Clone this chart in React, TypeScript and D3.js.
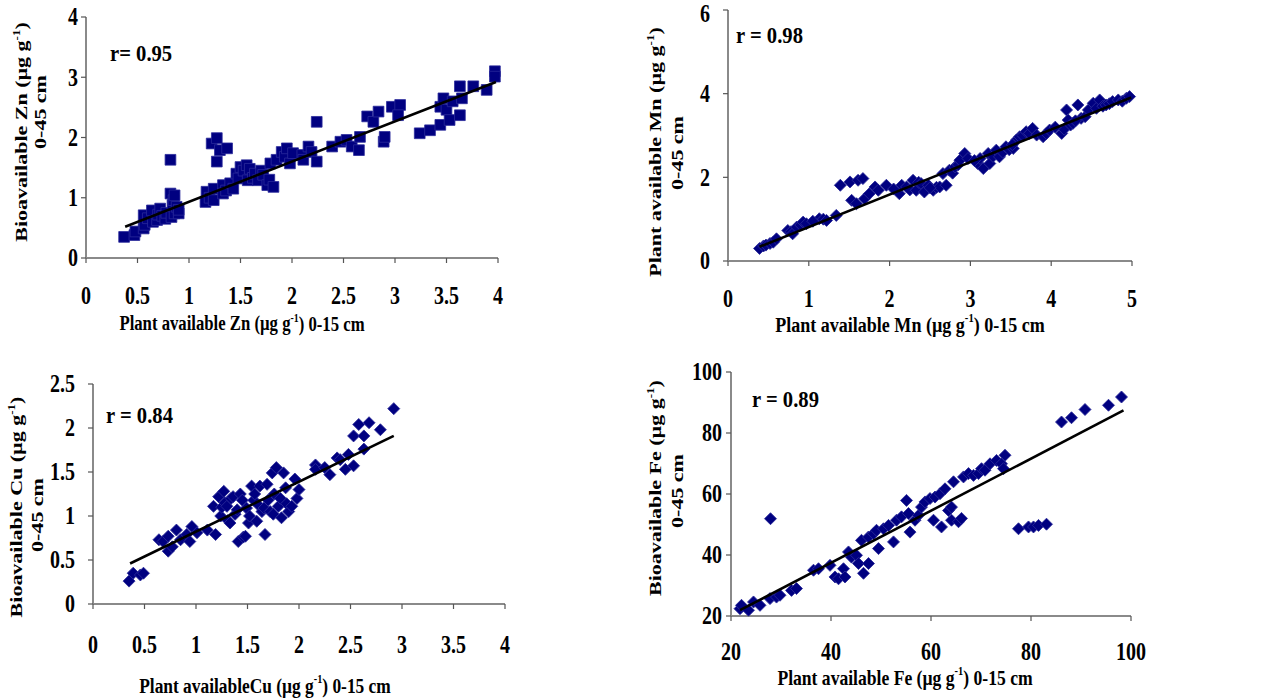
import React from 'react';
import * as d3 from 'd3';

// ---- data ----
const znPoints = [
  [0.37, 0.35], [0.47, 0.38], [0.48, 0.44], [0.56, 0.49], [0.57, 0.55], [0.56, 0.71], [0.6, 0.66],
  [0.64, 0.79], [0.65, 0.6], [0.69, 0.63], [0.7, 0.72], [0.72, 0.82], [0.74, 0.7], [0.77, 0.65],
  [0.78, 0.75], [0.82, 1.63], [0.82, 1.07], [0.83, 0.68], [0.84, 0.88], [0.85, 0.96], [0.86, 0.74],
  [0.86, 1.04], [0.88, 0.85], [0.9, 0.74], [0.9, 0.8], [1.16, 0.93], [1.17, 1.1], [1.2, 1.0],
  [1.24, 1.15], [1.24, 0.96], [1.22, 1.9], [1.27, 1.99], [1.27, 1.6], [1.3, 1.79], [1.37, 1.82],
  [1.33, 1.21], [1.33, 1.07], [1.36, 1.12], [1.4, 1.24], [1.43, 1.15], [1.46, 1.4], [1.48, 1.32],
  [1.5, 1.51], [1.53, 1.45], [1.56, 1.54], [1.57, 1.29], [1.59, 1.48], [1.62, 1.33], [1.64, 1.4],
  [1.67, 1.29], [1.7, 1.45], [1.72, 1.38], [1.76, 1.21], [1.78, 1.3], [1.79, 1.57], [1.82, 1.18],
  [1.85, 1.63], [1.9, 1.76], [1.93, 1.68], [1.95, 1.82], [1.98, 1.57], [2.01, 1.74], [2.1, 1.71],
  [2.11, 1.63], [2.16, 1.85], [2.19, 1.76], [2.24, 2.26], [2.24, 1.6], [2.39, 1.85], [2.47, 1.93],
  [2.53, 1.96], [2.58, 1.85], [2.65, 1.79], [2.66, 2.01], [2.73, 2.35], [2.79, 2.26], [2.84, 2.43],
  [2.89, 1.93], [2.9, 2.01], [2.97, 2.51], [3.05, 2.54], [3.03, 2.37], [3.24, 2.07], [3.34, 2.12],
  [3.44, 2.21], [3.44, 2.51], [3.47, 2.65], [3.5, 2.46], [3.53, 2.29], [3.56, 2.6], [3.63, 2.37],
  [3.63, 2.85], [3.65, 2.65], [3.76, 2.85], [3.89, 2.79], [3.97, 3.1], [3.97, 3.01],
];
const znTrend = [[0.38, 0.52], [3.98, 2.92]];

const mnPoints = [
  [0.39, 0.3], [0.44, 0.36], [0.47, 0.38], [0.52, 0.42], [0.56, 0.45], [0.6, 0.53], [0.74, 0.73],
  [0.78, 0.7], [0.8, 0.65], [0.85, 0.81], [0.9, 0.86], [0.93, 0.93], [0.97, 0.89], [1.13, 1.01],
  [1.18, 1.0], [1.22, 0.97], [1.34, 1.09], [1.39, 1.81], [1.51, 1.89], [1.53, 1.45], [1.61, 1.93],
  [1.67, 1.97], [1.59, 1.37], [1.69, 1.49], [1.75, 1.61], [1.82, 1.77], [1.86, 1.69], [1.96, 1.81],
  [2.12, 1.61], [2.15, 1.81], [2.21, 1.77], [2.25, 1.7], [2.29, 1.93], [2.33, 1.69], [2.36, 1.88],
  [2.39, 1.85], [2.43, 1.65], [2.48, 1.81], [2.54, 1.69], [2.58, 1.76], [2.62, 1.77], [2.66, 2.09],
  [2.7, 1.81], [2.74, 2.17], [2.78, 2.1], [2.81, 2.25], [2.85, 2.3], [2.87, 2.41], [2.93, 2.57],
  [2.97, 2.45], [3.09, 2.33], [3.12, 2.45], [3.16, 2.21], [3.22, 2.57], [3.24, 2.33], [3.28, 2.5],
  [3.32, 2.65], [3.36, 2.49], [3.4, 2.6], [3.44, 2.73], [3.48, 2.66], [3.53, 2.69], [3.57, 2.89],
  [3.61, 2.97], [3.65, 3.0], [3.69, 3.09], [3.73, 3.05], [3.77, 3.17], [3.82, 3.01], [3.9, 2.97],
  [3.94, 3.05], [3.98, 3.13], [4.13, 3.05], [4.16, 3.15], [4.19, 3.61], [4.21, 3.37], [4.24, 3.25],
  [4.27, 3.29], [4.33, 3.73], [4.37, 3.41], [4.42, 3.45], [4.46, 3.61], [4.52, 3.77], [4.56, 3.65],
  [4.6, 3.85], [4.64, 3.7], [4.68, 3.73], [4.72, 3.76], [4.76, 3.81], [4.83, 3.85], [4.88, 3.82],
  [4.93, 3.89], [4.97, 3.93], [1.05, 0.95], [2.05, 1.72], [2.5, 1.75], [3.05, 2.4], [3.52, 2.78],
  [4.05, 3.2], [4.3, 3.35],
];
const mnTrend = [[0.39, 0.34], [4.99, 3.91]];

const cuPoints = [
  [0.35, 0.26], [0.39, 0.35], [0.46, 0.33], [0.49, 0.35], [0.64, 0.73], [0.68, 0.71], [0.73, 0.77],
  [0.73, 0.6], [0.77, 0.65], [0.81, 0.84], [0.85, 0.73], [0.91, 0.79], [0.94, 0.71], [0.96, 0.88],
  [1.01, 0.81], [1.11, 0.84], [1.19, 0.79], [1.17, 1.11], [1.22, 1.22], [1.24, 1.0], [1.25, 1.1],
  [1.27, 1.28], [1.28, 1.15], [1.3, 1.11], [1.31, 0.95], [1.33, 0.92], [1.34, 1.2], [1.36, 1.22],
  [1.38, 1.02], [1.4, 1.07], [1.41, 0.71], [1.43, 1.25], [1.45, 1.18], [1.46, 0.76], [1.48, 0.77],
  [1.49, 1.09], [1.51, 0.92], [1.52, 1.0], [1.54, 1.34], [1.56, 1.18], [1.57, 1.25], [1.59, 0.94],
  [1.61, 1.12], [1.62, 1.34], [1.64, 1.05], [1.66, 1.09], [1.67, 0.79], [1.69, 1.36], [1.7, 1.18],
  [1.72, 1.05], [1.74, 1.49], [1.75, 1.02], [1.76, 1.25], [1.78, 1.55], [1.8, 1.11], [1.82, 1.2],
  [1.83, 0.98], [1.85, 1.49], [1.87, 1.32], [1.88, 1.14], [1.9, 1.05], [1.93, 1.11], [1.96, 1.42],
  [1.98, 1.2], [2.0, 1.3], [2.16, 1.58], [2.16, 1.53], [2.25, 1.55], [2.3, 1.47], [2.37, 1.66],
  [2.4, 1.64], [2.45, 1.53], [2.48, 1.7], [2.53, 1.57], [2.53, 1.91], [2.58, 2.04], [2.63, 1.91],
  [2.63, 1.76], [2.68, 2.06], [2.79, 1.98], [2.92, 2.22],
];
const cuTrend = [[0.36, 0.46], [2.92, 1.91]];

const fePoints = [
  [21.8, 22.4], [22.1, 23.5], [23.5, 21.9], [24.5, 24.6], [25.8, 23.5], [27.8, 25.7], [27.9, 51.9],
  [29.1, 26.2], [29.8, 26.8], [32.1, 28.4], [33.1, 29.0], [36.5, 35.0], [37.5, 35.5], [39.8, 36.6],
  [40.8, 32.8], [41.5, 32.2], [42.5, 35.5], [42.8, 32.8], [43.5, 41.0], [44.1, 39.3], [45.1, 39.9],
  [45.5, 37.2], [46.1, 44.8], [46.5, 34.0], [47.5, 37.2], [47.5, 45.9], [48.5, 47.0], [49.1, 48.1],
  [49.5, 42.1], [50.5, 48.6], [51.5, 49.7], [52.5, 44.3], [53.1, 51.4], [54.1, 52.5], [55.1, 57.9],
  [55.5, 53.6], [55.8, 47.5], [56.8, 51.4], [57.5, 53.0], [58.1, 55.7], [58.8, 57.4], [59.8, 58.5],
  [60.5, 51.4], [60.8, 59.0], [61.8, 60.1], [62.1, 49.2], [62.8, 61.7], [63.5, 54.6], [64.1, 55.7],
  [64.1, 51.4], [64.5, 64.0], [65.5, 50.9], [66.1, 52.0], [66.5, 65.6], [67.5, 66.7], [68.5, 66.1],
  [69.5, 66.7], [70.1, 68.3], [70.8, 67.8], [71.8, 69.9], [73.1, 71.0], [74.1, 69.9], [74.8, 72.7],
  [74.5, 68.3], [77.5, 48.6], [79.5, 49.2], [80.5, 49.2], [81.5, 49.7], [83.1, 50.1], [86.1, 83.6],
  [88.1, 85.0], [90.8, 87.7], [95.5, 89.1], [98.1, 91.8],
];
const feTrend = [[21.8, 21.9], [98.5, 87.4]];

const znXTicks = [0, 0.5, 1, 1.5, 2, 2.5, 3, 3.5, 4];
const znYTicks = [0, 1, 2, 3, 4];
const mnXTicks = [0, 1, 2, 3, 4, 5];
const mnYTicks = [0, 2, 4, 6];
const cuXTicks = [0, 0.5, 1, 1.5, 2, 2.5, 3, 3.5, 4];
const cuYTicks = [0, 0.5, 1, 1.5, 2, 2.5];
const feXTicks = [20, 40, 60, 80, 100];
const feYTicks = [20, 40, 60, 80, 100];

// ---- layout of the four panels ----
const panels = [
  {
    points: znPoints, trend: znTrend, marker: 'square', xTicks: znXTicks, yTicks: znYTicks,
    px: [86, 498], py: [258, 17], xLabY: 296, yLabX: 78,
    xTitle: ['Plant available Zn (µg g', '-1', ') 0-15 cm'], xTitlePos: [242, 323], xTitleSx: 0.76,
    yTitle: ['Bioavailable Zn (µg g', '-1', ')'], yTitlePos: [21, 132],
    y2Pos: [40, 112], r: 'r= 0.95', rPos: [110, 53],
  },
  {
    points: mnPoints, trend: mnTrend, marker: 'diamond', xTicks: mnXTicks, yTicks: mnYTicks,
    px: [728, 1132], py: [261, 10], xLabY: 299, yLabX: 710,
    xTitle: ['Plant available Mn (µg  g', '-1', ') 0-15 cm'], xTitlePos: [910, 324], xTitleSx: 0.82,
    yTitle: ['Plant available Mn (µg g', '-1', ')'], yTitlePos: [655, 152],
    y2Pos: [677, 153], r: 'r = 0.98', rPos: [736, 35],
  },
  {
    points: cuPoints, trend: cuTrend, marker: 'diamond', xTicks: cuXTicks, yTicks: cuYTicks,
    px: [93, 505], py: [604, 384], xLabY: 645, yLabX: 75,
    xTitle: ['Plant availableCu (µg g', '-1', ') 0-15 cm'], xTitlePos: [265, 685], xTitleSx: 0.79,
    yTitle: ['Bioavailable Cu (µg g', '-1', ')'], yTitlePos: [16, 507],
    y2Pos: [37, 515], r: 'r = 0.84', rPos: [106, 415],
  },
  {
    points: fePoints, trend: feTrend, marker: 'diamond', xTicks: feXTicks, yTicks: feYTicks,
    px: [731, 1131], py: [616, 372], xLabY: 652, yLabX: 722,
    xTitle: ['Plant available Fe (µg g', '-1', ') 0-15 cm'], xTitlePos: [905, 677], xTitleSx: 0.8,
    yTitle: ['Bioavailable Fe (µg g', '-1', ')'], yTitlePos: [655, 488],
    y2Pos: [677, 491], r: 'r = 0.89', rPos: [752, 399],
  },
];

const FONT = '"Liberation Serif", "Times New Roman", serif';
const SQX = 0.8; // the figure is squeezed horizontally

const squarePath = d3.symbol().type(d3.symbolSquare).size(115)()!;
const diamondPath = d3.symbol().type(d3.symbolSquare).size(72)()!;

function Panel({ p }: { p: any }) {
  const xs = d3.extent(p.xTicks) as [number, number];
  const ys = d3.extent(p.yTicks) as [number, number];
  const x = d3.scaleLinear().domain(xs).range(p.px);
  const y = d3.scaleLinear().domain(ys).range(p.py);
  const line = d3.line<number[]>().x(d => x(d[0])).y(d => y(d[1]));
  const axisY = y(ys[0]);
  const axisX = x(xs[0]);

  return (
    <g fontFamily={FONT} fontWeight="bold" fill="#000">
      {/* axes */}
      <line x1={axisX} x2={axisX} y1={y(ys[1])} y2={axisY} stroke="#8a8a8a" strokeWidth={2} />
      <line x1={axisX} x2={x(xs[1])} y1={axisY} y2={axisY} stroke="#8a8a8a" strokeWidth={2} />
      {p.yTicks.map((t: number) => (
        <g key={'yt' + t}>
          <line x1={axisX - 5} x2={axisX} y1={y(t)} y2={y(t)} stroke="#555" strokeWidth={1.2} />
          <text transform={`translate(${p.yLabX},${Math.max(y(t), 14)}) scale(${SQX},1)`} textAnchor="end"
            dominantBaseline="central" fontSize={25}>{t}</text>
        </g>
      ))}
      {p.xTicks.map((t: number) => (
        <g key={'xt' + t}>
          <line x1={x(t)} x2={x(t)} y1={axisY} y2={axisY + 5} stroke="#555" strokeWidth={1.2} />
          <text transform={`translate(${x(t)},${p.xLabY}) scale(${SQX},1)`} textAnchor="middle"
            dominantBaseline="central" fontSize={25}>{t}</text>
        </g>
      ))}

      {/* points */}
      {p.points.map((d: number[], i: number) => (
        <path key={i} d={p.marker === 'square' ? squarePath : diamondPath}
          transform={`translate(${x(d[0])},${y(d[1])})${p.marker === 'square' ? '' : ' rotate(45)'}`}
          fill="#000080" stroke="#2a2a9a" strokeWidth={0.8} />
      ))}

      {/* trend line */}
      <path d={line(p.trend)!} fill="none" stroke="#000" strokeWidth={2.6} />

      {/* r value */}
      <text transform={`translate(${p.rPos[0]},${p.rPos[1]}) scale(0.86,1)`} dominantBaseline="central"
        fontSize={24}>{p.r}</text>

      {/* x title */}
      <text transform={`translate(${p.xTitlePos[0]},${p.xTitlePos[1]}) scale(${p.xTitleSx},1)`}
        textAnchor="middle" dominantBaseline="central" fontSize={22}>
        {p.xTitle[0]}<tspan dy={-6} fontSize={13}>{p.xTitle[1]}</tspan><tspan dy={6}>{p.xTitle[2]}</tspan>
      </text>

      {/* y title, two lines */}
      <text transform={`translate(${p.yTitlePos[0]},${p.yTitlePos[1]}) scale(${SQX},1) rotate(-90)`}
        textAnchor="middle" dominantBaseline="central" fontSize={22}>
        {p.yTitle[0]}<tspan dy={-6} fontSize={13}>{p.yTitle[1]}</tspan><tspan dy={6}>{p.yTitle[2]}</tspan>
      </text>
      <text transform={`translate(${p.y2Pos[0]},${p.y2Pos[1]}) scale(${SQX},1) rotate(-90)`}
        textAnchor="middle" dominantBaseline="central" fontSize={22}>0-45 cm</text>
    </g>
  );
}

export default function App() {
  return (
    <svg width={1273} height={700} style={{ position: 'absolute', left: 0, top: 0, background: '#fff' }}>
      <rect width={1273} height={700} fill="#fff" />
      {panels.map((p, i) => <Panel key={i} p={p} />)}
    </svg>
  );
}
